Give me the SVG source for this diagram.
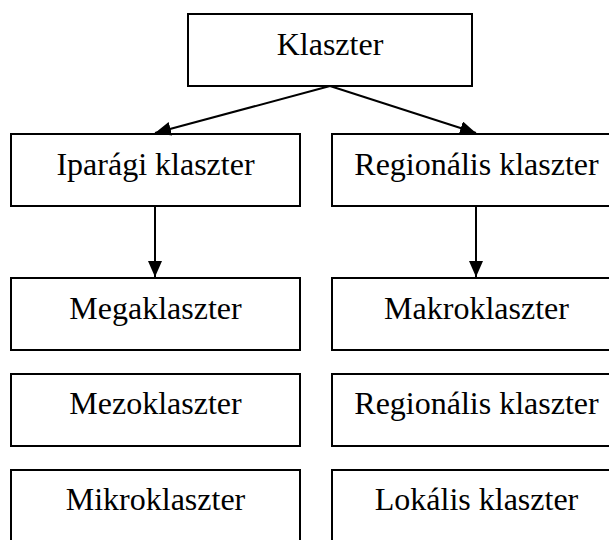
<svg xmlns="http://www.w3.org/2000/svg" width="609" height="540" viewBox="0 0 609 540">
<style>
.box{fill:#fff;stroke:#000;stroke-width:2}
.lbl{font-family:"Liberation Serif","Times New Roman",serif;font-size:32px;fill:#000;text-anchor:middle}
.con{fill:none;stroke:#000;stroke-width:2}
</style>
<defs>
<marker id="ah" viewBox="0 0 16 14" refX="16" refY="7" markerWidth="16" markerHeight="14" markerUnits="userSpaceOnUse" orient="auto">
<path d="M0,0 L16,7 L0,14 Z" fill="#000"/>
</marker>
</defs>
<rect width="609" height="540" fill="#fff"/>
<g id="n-klaszter"><rect class="box" x="188" y="14" width="284" height="72"/><text class="lbl" x="330" y="55">Klaszter</text></g>
<g id="n-iparagi"><rect class="box" x="11" y="134" width="289" height="72"/><text class="lbl" x="155.5" y="175">Iparági klaszter</text></g>
<g id="n-regionalis"><rect class="box" x="332" y="134" width="289" height="72"/><text class="lbl" x="476.5" y="175">Regionális klaszter</text></g>
<g id="n-mega"><rect class="box" x="11" y="278" width="289" height="72"/><text class="lbl" x="155.5" y="319">Megaklaszter</text></g>
<g id="n-makro"><rect class="box" x="332" y="278" width="289" height="72"/><text class="lbl" x="476.5" y="319">Makroklaszter</text></g>
<g id="n-mezo"><rect class="box" x="11" y="374" width="289" height="72"/><text class="lbl" x="155.5" y="414">Mezoklaszter</text></g>
<g id="n-regionalis2"><rect class="box" x="332" y="374" width="289" height="72"/><text class="lbl" x="476.5" y="414">Regionális klaszter</text></g>
<g id="n-mikro"><rect class="box" x="11" y="470" width="289" height="72"/><text class="lbl" x="155.5" y="510">Mikroklaszter</text></g>
<g id="n-lokalis"><rect class="box" x="332" y="470" width="289" height="72"/><text class="lbl" x="476.5" y="510">Lokális klaszter</text></g>
<g id="connectors">
<line class="con" x1="330" y1="86" x2="155" y2="133" marker-end="url(#ah)"/>
<line class="con" x1="330" y1="86" x2="476" y2="133" marker-end="url(#ah)"/>
<line class="con" x1="155" y1="206" x2="155" y2="277" marker-end="url(#ah)"/>
<line class="con" x1="476" y1="206" x2="476" y2="277" marker-end="url(#ah)"/>
</g>
</svg>
